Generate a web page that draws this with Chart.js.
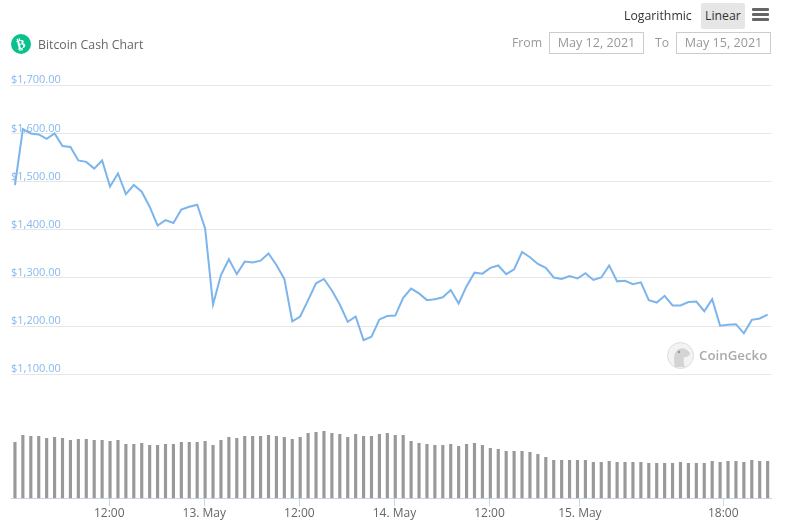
<!DOCTYPE html>
<html>
<head>
<meta charset="utf-8">
<title>Bitcoin Cash Chart</title>
<script src="https://cdn.jsdelivr.net/npm/chart.js@4"></script>
<style>
  html, body { margin: 0; padding: 0; background: #fff; font-family: "Open Sans", sans-serif; }
  #wrap { position: relative; width: 785px; height: 532px; overflow: hidden; }
  #wrap canvas { position: absolute; left: 0; top: 0; }
  .t { position: absolute; white-space: nowrap; line-height: 18px; font-size: 12.3px; }
  .box { position: absolute; box-sizing: border-box; border: 1px solid #ccc; height: 22px; width: 95px;
         font-size: 12.6px; line-height: 20px; color: #999; text-align: center; }
  .bar { position: absolute; left: 752px; width: 17px; height: 3px; background: #666; border-radius: 1px; }
</style>
</head>
<body>
<div id="wrap">
  <canvas id="chart" width="785" height="532"></canvas>

  <svg style="position:absolute;left:11px;top:34px" width="20" height="20" viewBox="0 0 20 20">
    <circle cx="10" cy="10" r="10" fill="#0ac18e"/>
    <text x="10" y="14.5" font-size="13" font-weight="700" fill="#fff" text-anchor="middle"
          font-family="DejaVu Sans" transform="rotate(-14 10 10)">₿</text>
  </svg>
  <div class="t" style="left:38px;top:36px;color:#666">Bitcoin Cash Chart</div>

  <div class="t" style="left:624px;top:7px;color:#333">Logarithmic</div>
  <div style="position:absolute;left:701px;top:3px;width:44px;height:26px;background:#e6e6e6;border-radius:2px"></div>
  <div class="t" style="left:705px;top:7px;color:#333">Linear</div>
  <div class="bar" style="top:8px"></div>
  <div class="bar" style="top:13px"></div>
  <div class="bar" style="top:18px"></div>

  <div class="t" style="left:512px;top:34px;color:#999">From</div>
  <div class="box" style="left:549px;top:32px">May 12, 2021</div>
  <div class="t" style="left:655px;top:34px;color:#999">To</div>
  <div class="box" style="left:676px;top:32px">May 15, 2021</div>

  <svg style="position:absolute;left:667px;top:342px" width="27" height="27" viewBox="0 0 27 27">
    <circle cx="13.5" cy="13.5" r="13" fill="#f3f3f3" stroke="#dcdcdc"/>
    <path d="M8 25 C6 16 7 9 12 7 C16 5 20 7 23 11 C23 13 21 15 17 15 C16 19 17 23 18 25 Z" fill="#d4d4d4"/>
    <circle cx="12" cy="10" r="1.2" fill="#999"/>
  </svg>
  <div class="t" style="left:699px;top:346px;font-size:13.3px;font-weight:600;color:#aaa">CoinGecko</div>
</div>

<script>
const priceTicks = [1100, 1200, 1300, 1400, 1500, 1600, 1700];
const timeTicks = [11.9, 23.9, 35.9, 47.9, 59.9, 71.3, 89.4];
const timeLabels = ["12:00", "13. May", "12:00", "14. May", "12:00", "15. May", "18:00"];

const prices = [
  1493, 1609, 1600, 1598, 1589, 1600, 1574, 1572, 1544, 1541, 1527, 1544,
  1490, 1517, 1474, 1493, 1479, 1448, 1409, 1420, 1414, 1442, 1448, 1452,
  1403, 1245, 1306, 1339, 1308, 1334, 1332, 1336, 1351, 1327, 1298, 1210,
  1220, 1254, 1289, 1298, 1274, 1245, 1209, 1220, 1171, 1178, 1214, 1221,
  1222, 1259, 1278, 1268, 1254, 1256, 1260, 1275, 1247, 1283, 1311, 1309,
  1321, 1326, 1308, 1318, 1354, 1343, 1329, 1321, 1301, 1298, 1304, 1299,
  1310, 1296, 1301, 1326, 1293, 1294, 1287, 1291, 1254, 1249, 1263, 1243,
  1243, 1250, 1251, 1231, 1256, 1201, 1203, 1204, 1185, 1213, 1216, 1224
];

const volumes = [
  168, 189, 186, 186, 180, 183, 180, 174, 177, 177, 174, 174,
  171, 174, 162, 162, 165, 159, 159, 162, 162, 168, 168, 168,
  171, 159, 174, 183, 180, 186, 186, 186, 189, 186, 183, 177,
  183, 195, 198, 201, 195, 192, 183, 192, 186, 186, 192, 195,
  189, 189, 171, 165, 162, 159, 159, 162, 156, 162, 165, 159,
  150, 147, 141, 141, 141, 138, 132, 123, 114, 114, 114, 114,
  114, 108, 108, 111, 108, 108, 108, 108, 105, 105, 105, 105,
  108, 105, 105, 105, 111, 108, 111, 111, 108, 114, 111, 111
];

new Chart(document.getElementById("chart"), {
  data: {
    datasets: [{
      type: "line",
      data: prices.map((v, i) => ({ x: i, y: v })),
      yAxisID: "y",
      borderColor: "#7cb5ec",
      borderWidth: 2,
      pointRadius: 0,
      tension: 0,
      order: 1
    }, {
      type: "bar",
      data: volumes.map((v, i) => ({ x: i, y: v })),
      yAxisID: "vol",
      backgroundColor: "#999999",
      barThickness: 2.5,
      order: 2
    }]
  },
  options: {
    responsive: false,
    animation: false,
    layout: { padding: { left: 11, right: 13.4, top: 85.3, bottom: 0 } },
    plugins: { legend: { display: false }, tooltip: { enabled: false } },
    scales: {
      x: {
        type: "linear",
        offset: false,
        min: -0.5,
        max: 95.5,
        afterBuildTicks: s => { s.ticks = timeTicks.map(v => ({ value: v })); },
        afterFit: s => { s.height = 33.7; },
        grid: { drawOnChartArea: false, tickLength: 8, tickColor: "#ccd6eb", offset: false },
        border: { color: "#ccd6eb" },
        ticks: {
          autoSkip: false,
          maxRotation: 0,
          padding: 0,
          color: "#666",
          font: { family: "Open Sans", size: 12 },
          callback: (v, i) => timeLabels[i]
        }
      },
      y: {
        position: "left",
        min: 842.6,
        max: 1700,
        afterBuildTicks: s => { s.ticks = priceTicks.map(v => ({ value: v })); },
        grid: { color: "#e6e6e6", drawTicks: false },
        border: { display: false },
        ticks: {
          mirror: true,
          padding: 0,
          labelOffset: -5,
          color: "#86b9ed",
          font: { family: "Open Sans", size: 11 },
          callback: v => "$" + v.toLocaleString("en-US", { minimumFractionDigits: 2 })
        }
      },
      vol: {
        display: false,
        min: 0,
        max: 1239
      }
    }
  }
});
</script>
</body>
</html>
